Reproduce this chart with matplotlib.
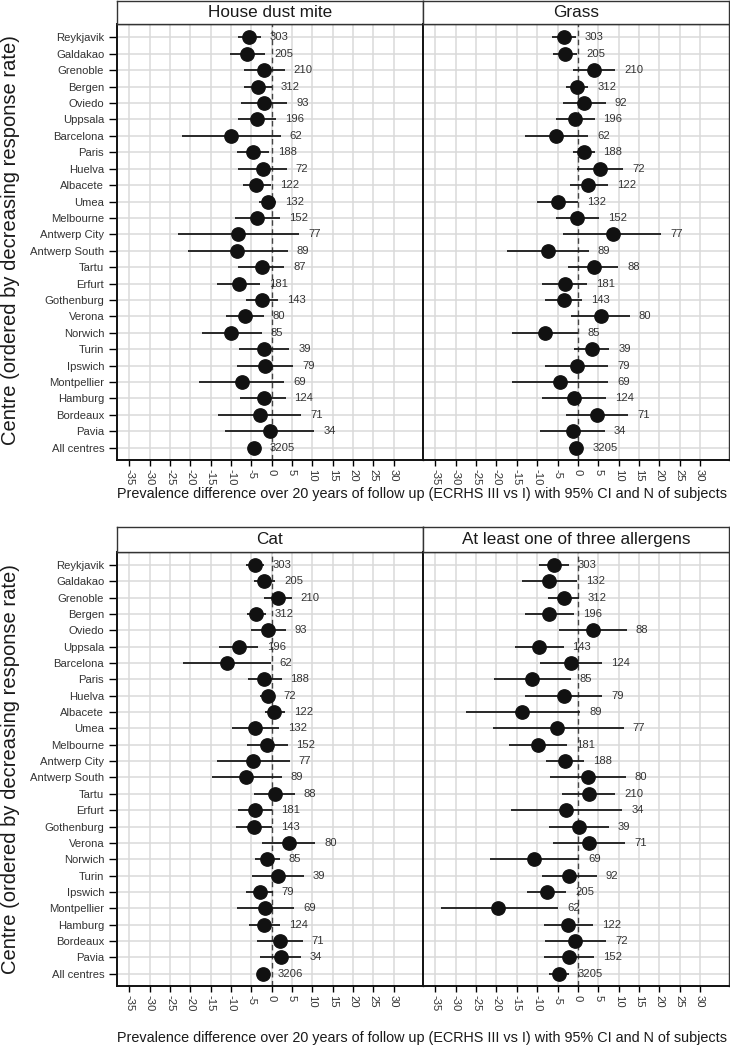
import matplotlib
matplotlib.use("Agg")
from matplotlib import pyplot as plt
import numpy as np

plt.rcParams['font.family'] = ['Liberation Sans', 'DejaVu Sans']

# centres, ordered by decreasing response rate
centres = ['Reykjavik', 'Galdakao', 'Grenoble', 'Bergen', 'Oviedo', 'Uppsala',
           'Barcelona', 'Paris', 'Huelva', 'Albacete', 'Umea', 'Melbourne',
           'Antwerp City', 'Antwerp South', 'Tartu', 'Erfurt', 'Gothenburg',
           'Verona', 'Norwich', 'Turin', 'Ipswich', 'Montpellier', 'Hamburg',
           'Bordeaux', 'Pavia', 'All centres']

# house dust mite
hdm_est = [-5.5, -6.1, -1.8, -3.4, -1.9, -3.7, -10.1, -4.7, -2.1, -3.9, -1.0, -3.6, -8.4,
           -8.6, -2.5, -8.0, -2.4, -6.6, -9.9, -1.8, -1.6, -7.4, -2.0, -2.9, -0.4, -4.3]
hdm_lo = [-8.4, -10.3, -6.7, -6.7, -7.6, -8.2, -22.0, -8.6, -8.2, -7.1, -3.1, -9.0, -23.1,
          -20.7, -8.4, -13.5, -6.3, -11.2, -17.2, -8.0, -8.6, -17.9, -7.8, -13.3, -11.6, -5.8]
hdm_hi = [-2.7, -1.6, 3.2, 0.0, 3.8, 1.1, 2.2, -0.7, 3.7, -0.2, 1.1, 2.1, 6.8,
          3.9, 3.1, -2.8, 1.6, -2.0, -2.5, 4.3, 5.3, 3.0, 3.4, 7.2, 10.5, -2.8]
hdm_n = [303, 205, 210, 312, 93, 196, 62, 188, 72, 122, 132, 152, 77,
         89, 87, 181, 143, 80, 85, 39, 79, 69, 124, 71, 34, 3205]

# grass
grass_est = [-3.35, -3.1, 4.0, -0.2, 1.6, -0.7, -5.3, 1.4, 5.4, 2.6, -5.0, -0.2, 8.5,
             -7.4, 3.9, -3.2, -3.4, 5.6, -8.1, 3.5, -0.3, -4.4, -0.9, 4.8, -1.3, -0.4]
grass_lo = [-6.3, -6.0, -1.1, -2.8, -3.6, -5.4, -13.1, -1.1, -0.1, -2.0, -10.0, -5.4, -3.6,
            -17.4, -2.4, -8.7, -8.1, -1.8, -16.2, -1.0, -8.0, -16.1, -8.8, -2.9, -9.3, -2.2]
grass_hi = [-0.5, -0.2, 9.2, 2.6, 6.9, 4.1, 2.6, 4.1, 11.1, 7.5, 0.1, 5.3, 20.5,
            2.7, 9.9, 2.3, 1.1, 12.7, 0.1, 7.7, 7.4, 7.5, 7.0, 12.4, 6.6, 1.3]
grass_n = [303, 205, 210, 312, 92, 196, 62, 188, 72, 122, 132, 152, 77,
           89, 88, 181, 143, 80, 85, 39, 79, 69, 124, 71, 34, 3205]

# cat
cat_est = [-4.0, -1.8, 1.5, -3.8, -0.8, -8.1, -11.1, -1.8, -0.8, 0.6, -4.0, -1.1, -4.5,
           -6.3, 0.8, -4.2, -4.4, 4.2, -1.1, 1.6, -3.0, -1.6, -1.9, 2.0, 2.2, -2.2]
cat_lo = [-6.3, -4.3, -2.0, -6.1, -5.1, -12.9, -21.9, -5.9, -2.9, -1.6, -9.7, -6.1, -13.4,
          -14.8, -4.3, -8.4, -8.8, -2.3, -4.1, -4.8, -6.3, -8.6, -5.7, -3.7, -2.9, -3.6]
cat_hi = [-1.9, 0.9, 4.9, -1.4, 3.4, -3.3, -0.2, 2.4, 0.7, 3.2, 1.8, 3.9, 4.4,
          2.4, 5.7, 0.1, 0.0, 10.7, 2.0, 7.9, 0.2, 5.5, 2.1, 7.6, 7.2, -0.8]
cat_n = [303, 205, 210, 312, 93, 196, 62, 188, 72, 122, 132, 152, 77,
         89, 88, 181, 143, 80, 85, 39, 79, 69, 124, 71, 34, 3206]

# at least one of three allergens
any_est = [-5.8, -7.2, -3.3, -7.0, 3.7, -9.6, -1.7, -11.3, -3.4, -13.6, -5.1, -9.7, -3.1,
           2.4, 2.8, -2.9, 0.2, 2.8, -10.7, -2.1, -7.7, -19.6, -2.4, -0.6, -2.1, -4.7]
any_lo = [-9.5, -13.7, -7.3, -13.0, -4.7, -15.4, -9.3, -20.7, -13.1, -27.4, -20.9, -16.8, -7.8,
          -6.9, -3.8, -16.5, -7.1, -6.1, -21.6, -8.7, -12.4, -33.6, -8.3, -8.0, -8.2, -7.0]
any_hi = [-2.2, -0.1, 0.3, -0.9, 12.0, -3.5, 6.0, -1.8, 6.0, 0.6, 11.3, -2.7, 1.5,
          11.7, 9.2, 10.9, 7.6, 11.6, 0.3, 4.6, -2.9, -4.8, 3.8, 7.0, 3.9, -2.2]
any_n = [303, 132, 312, 196, 88, 143, 124, 85, 79, 89, 77, 181, 188,
         80, 210, 34, 39, 71, 69, 92, 205, 62, 122, 72, 152, 3205]

x_ticks = list(range(-35, 31, 5))

W, H = 730, 1049
ylab = 'Centre (ordered by decreasing response rate)'
xlab = 'Prevalence difference over 20 years of follow up (ECRHS III vs I) with 95% CI and N of subjects'
small = 8.1


def box(x0, y0, x1, y1):
    # pixel box (top-left origin) -> figure fraction
    return [x0 / W, 1 - y1 / H, (x1 - x0) / W, (y1 - y0) / H]


def panel(fig, x0, x1, y_strip, y0, y1, title, est, lo, hi, n, left):
    ax = fig.add_axes(box(x0, y0, x1, y1))
    y = np.arange(len(centres))
    ax.set_xlim(-38.1, 37.1)
    ax.set_ylim(len(centres) - 1 + 0.75, -0.8)
    ax.set_axisbelow(True)
    ax.grid(True, color='#dadada', lw=1.1)
    ax.axvline(0, color='#444444', lw=1.0, ls=(0, (4, 2.5)), zorder=1)
    ax.hlines(y, lo, hi, color='#1a1a1a', lw=1.3, zorder=2)
    ax.plot(est, y, 'o', ms=9.6, color='#111111', zorder=3)
    for yi, h, ni in zip(y, hi, n):
        ax.text(h + 2.2, yi, str(ni), va='center', ha='left', fontsize=small, color='#333333')

    ax.set_xticks(x_ticks)
    ax.set_xticklabels([str(v) for v in x_ticks], rotation=270, fontsize=small, color='#333333')
    ax.set_yticks(y)
    if left:
        ax.set_yticklabels(centres, fontsize=small, color='#333333')
        ax.tick_params(axis='y', length=6, width=1.0, pad=3)
    else:
        ax.set_yticklabels([])
        ax.tick_params(axis='y', length=0)
    ax.tick_params(axis='x', length=4.3, width=1.0, pad=2)
    for s in ['left', 'bottom']:
        ax.spines[s].set_linewidth(1.4)
        ax.spines[s].set_color('#111111')
    for s in ['top', 'right']:
        ax.spines[s].set_linewidth(1.0)
        ax.spines[s].set_color('#333333')

    st = fig.add_axes(box(x0, y_strip, x1, y0))
    st.set_xticks([])
    st.set_yticks([])
    for s in st.spines.values():
        s.set_linewidth(1.0)
        s.set_color('#333333')
    st.text(0.5, 0.5, title, ha='center', va='center', fontsize=12.3, color='#1a1a1a',
            transform=st.transAxes)
    return ax


fig = plt.figure(figsize=(W / 100, H / 100), dpi=100)

xl, xm, xr = 116.7, 422.7, 729.0

panel(fig, xl, xm, 0.6, 24.3, 460.0, 'House dust mite', hdm_est, hdm_lo, hdm_hi, hdm_n, True)
panel(fig, xm, xr, 0.6, 24.3, 460.0, 'Grass', grass_est, grass_lo, grass_hi, grass_n, False)
panel(fig, xl, xm, 526.7, 551.7, 986.0, 'Cat', cat_est, cat_lo, cat_hi, cat_n, True)
panel(fig, xm, xr, 526.7, 551.7, 986.0, 'At least one of three allergens',
      any_est, any_lo, any_hi, any_n, False)

fig.text(11 / W, 1 - 240 / H, ylab, rotation=90, ha='center', va='center', fontsize=14.5, color='#1a1a1a')
fig.text(11 / W, 1 - 769 / H, ylab, rotation=90, ha='center', va='center', fontsize=14.5, color='#1a1a1a')
fig.text(422 / W, 1 - 494 / H, xlab, ha='center', va='center', fontsize=10.35, color='#1a1a1a')
fig.text(422 / W, 1 - 1038 / H, xlab, ha='center', va='center', fontsize=10.35, color='#1a1a1a')

fig.savefig('out.png', dpi=100)
